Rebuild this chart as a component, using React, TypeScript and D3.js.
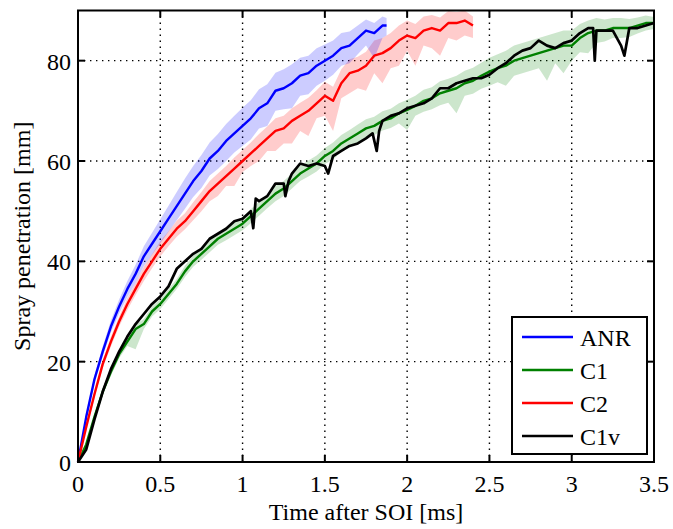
import React from "react";
import * as d3 from "d3";

const xTicks = [0, 0.5, 1, 1.5, 2, 2.5, 3, 3.5];
const xTickLabels = ["0", "0.5", "1", "1.5", "2", "2.5", "3", "3.5"];
const yTicks = [0, 20, 40, 60, 80];
const yTickLabels = ["0", "20", "40", "60", "80"];
const seriesNames = ["ANR", "C1", "C2", "C1v"];

// ANR
const anrT = [0, 0.05, 0.1, 0.15, 0.2, 0.25, 0.3, 0.35, 0.4, 0.45, 0.5, 0.55, 0.6, 0.65, 0.7, 0.75, 0.8, 0.85, 0.9, 0.95, 1.0, 1.05, 1.1, 1.15, 1.2, 1.25, 1.3, 1.35, 1.4, 1.45, 1.5, 1.55, 1.6, 1.65, 1.7, 1.75, 1.8, 1.85, 1.875];
const anrV = [0, 9, 16.5, 22, 27, 31, 34.5, 37.5, 41, 43.5, 46, 48.5, 51, 53.5, 56, 58, 60.5, 62, 64, 65.5, 67, 68.5, 70.5, 71.5, 74, 74.5, 75.5, 77, 77.5, 79, 80, 81, 82.5, 83, 84.5, 86, 85.5, 87, 87];
const anrUp = [0, 0.5, 0.8, 1, 1.2, 1.4, 1.6, 1.8, 2, 2.2, 2.4, 2.6, 2.8, 3, 3, 3.2, 3.2, 3.4, 3.4, 3.5, 3.6, 3.6, 3.8, 3.8, 3.6, 3.8, 3.8, 3.6, 3.5, 3.5, 3.2, 3, 3, 2.8, 2.5, 2.2, 2, 1.8, 1.5];
const anrDn = [0, 0.5, 0.8, 1, 1.2, 1.4, 1.6, 1.8, 2, 2.2, 2.4, 2.6, 2.8, 3, 3.2, 3.4, 3.4, 3.6, 4, 3.8, 4, 4.2, 4, 4.5, 4, 4.2, 5, 4, 4.2, 4, 4, 3.8, 3.5, 3.5, 3.2, 3, 5, 2.5, 2];

// C2
const c2T = [0, 0.05, 0.1, 0.15, 0.2, 0.25, 0.3, 0.35, 0.4, 0.45, 0.5, 0.55, 0.6, 0.65, 0.7, 0.75, 0.8, 0.85, 0.9, 0.95, 1.0, 1.05, 1.1, 1.15, 1.2, 1.25, 1.3, 1.35, 1.4, 1.45, 1.5, 1.55, 1.6, 1.65, 1.7, 1.75, 1.8, 1.85, 1.9, 1.95, 2.0, 2.05, 2.1, 2.15, 2.2, 2.25, 2.3, 2.35, 2.4];
const c2V = [0, 7, 13.5, 19.5, 24, 28, 31.5, 34.5, 37.5, 40, 42.5, 44.5, 46.5, 48, 50, 52, 54, 55.5, 57, 58.5, 60, 61.5, 63, 64.5, 66, 66.5, 68, 69, 70, 71.5, 73, 72, 75.5, 77.5, 78, 79, 81, 81.5, 82.5, 84, 85, 84.5, 86, 86.5, 86, 87.5, 87.5, 88, 87];
const c2Up = [0, 0.4, 0.6, 0.8, 1, 1, 1.2, 1.2, 1.4, 1.4, 1.5, 1.5, 1.6, 1.6, 1.8, 1.8, 2, 2, 2, 2.2, 2.2, 2.2, 2.4, 2.4, 2.5, 2.5, 2.5, 2.6, 2.6, 2.6, 2.8, 2.8, 2.8, 2.8, 2.8, 2.8, 3, 3, 3, 3, 3, 2.8, 2.8, 2.6, 2.6, 2.4, 2.2, 2, 1.8];
const c2Dn = [0, 0.4, 0.6, 0.8, 1, 1, 1.2, 1.2, 1.4, 1.4, 1.5, 1.5, 1.6, 1.6, 1.8, 2, 2, 2.5, 2, 3.5, 2.2, 2.5, 3, 2.5, 4, 3, 4.5, 3, 5, 3, 4, 6, 3, 4, 3.5, 5, 3.5, 6, 4, 5, 3, 5.5, 3, 4, 5, 3, 3.5, 3, 2.5];

// C1
const c1T = [0, 0.05, 0.1, 0.15, 0.2, 0.25, 0.3, 0.35, 0.4, 0.45, 0.5, 0.55, 0.6, 0.65, 0.7, 0.75, 0.8, 0.85, 0.9, 0.95, 1.0, 1.05, 1.1, 1.15, 1.2, 1.25, 1.3, 1.35, 1.4, 1.45, 1.5, 1.55, 1.6, 1.65, 1.7, 1.75, 1.8, 1.85, 1.9, 1.95, 2.0, 2.05, 2.1, 2.15, 2.2, 2.25, 2.3, 2.35, 2.4, 2.45, 2.5, 2.55, 2.6, 2.65, 2.7, 2.75, 2.8, 2.85, 2.9, 2.95, 3.0, 3.05, 3.1, 3.15, 3.2, 3.25, 3.3, 3.35, 3.4, 3.45, 3.5];
const c1V = [0, 3.5, 9, 14, 18, 21.5, 24, 26.5, 27.5, 30, 31.5, 33.5, 35.5, 38, 40, 41.5, 43, 44.5, 45.5, 46.5, 47.5, 49, 50.5, 52, 53.5, 54.5, 56, 57.5, 58.5, 59.5, 61, 62, 63.5, 64.5, 65.5, 66.5, 67, 68, 68.5, 69.5, 70.2, 71, 72, 72.5, 73.5, 74, 74.5, 75.5, 76, 77, 77.8, 78.5, 79, 80, 80.5, 81, 81.5, 82, 82.5, 83, 83, 84.5, 85.5, 86, 86, 86.5, 86.5, 86.5, 87, 87.5, 87.5];
const c1Up = [0, 0.3, 0.5, 0.7, 0.8, 0.8, 0.9, 0.9, 1, 1, 1, 1, 1, 1.1, 1.1, 1.2, 1.2, 1.2, 1.3, 1.3, 1.3, 1.4, 1.4, 1.4, 1.5, 1.5, 1.5, 1.5, 1.6, 1.6, 1.6, 1.7, 1.7, 1.7, 1.8, 1.8, 1.8, 1.9, 1.9, 2, 2, 2, 2.2, 2.2, 2.4, 2.4, 2.5, 2.5, 2.6, 2.6, 2.8, 2.8, 3, 3, 3, 3, 3, 3, 3, 3, 3, 2.8, 2.5, 2.5, 2.2, 2, 2, 1.8, 1.6, 1.5, 1.2];
const c1Dn = [0, 0.3, 0.5, 0.7, 0.8, 0.8, 0.9, 4, 1, 1, 1, 1, 1, 1.1, 1.1, 1.2, 1.2, 1.2, 1.3, 1.3, 1.3, 1.4, 1.4, 1.4, 1.5, 1.5, 1.5, 1.5, 1.6, 1.6, 1.6, 1.7, 1.7, 1.7, 1.8, 1.8, 1.8, 1.9, 1.9, 2, 4, 2, 2.2, 2.2, 2.4, 2.4, 5, 2.5, 2.6, 2.6, 2.8, 2.8, 4, 3, 3, 3, 3, 6, 3, 5.5, 3, 2.8, 4, 2.5, 2.2, 2, 2, 1.8, 1.6, 1.5, 1.2];

// C1v
const c1vT = [0, 0.05, 0.1, 0.15, 0.2, 0.25, 0.3, 0.35, 0.4, 0.45, 0.5, 0.55, 0.6, 0.65, 0.7, 0.75, 0.8, 0.85, 0.9, 0.95, 1.0, 1.05, 1.065, 1.08, 1.1, 1.15, 1.2, 1.25, 1.26, 1.28, 1.3, 1.35, 1.4, 1.45, 1.5, 1.52, 1.55, 1.6, 1.65, 1.7, 1.75, 1.79, 1.815, 1.83, 1.85, 1.9, 1.95, 2.0, 2.05, 2.1, 2.15, 2.2, 2.25, 2.3, 2.35, 2.4, 2.45, 2.5, 2.55, 2.6, 2.65, 2.7, 2.75, 2.8, 2.85, 2.9, 2.95, 3.0, 3.05, 3.1, 3.13, 3.14, 3.15, 3.2, 3.25, 3.3, 3.32, 3.35, 3.4, 3.45, 3.5];
const c1vV = [0, 2.5, 8.5, 14, 18.5, 22, 25, 27.5, 29.5, 31.5, 33, 35, 38.5, 40, 41.5, 42.5, 44.5, 45.5, 46.5, 48, 48.5, 50, 46.6, 52.5, 52, 53, 55.5, 55.5, 53, 56, 57.5, 59.5, 59, 59.5, 59, 57.5, 61, 62, 63, 63.5, 64.5, 65.5, 62, 66, 68, 69, 69.5, 70.5, 71, 71.5, 72.5, 74.5, 74.5, 75.5, 76, 76.5, 76.5, 77.2, 78.5, 79.5, 81, 82, 82.5, 84, 83, 82.5, 83.5, 84, 85.5, 86.5, 86.5, 80, 86, 86, 86, 83, 81, 86.5, 86.5, 87, 87.5];

const PL = 78, PR = 654, PT = 10.5, PB = 462;
const FONT = "Liberation Serif, DejaVu Serif, Times New Roman, serif";

type Pt = { t: number; v: number; lo: number; hi: number };
function mk(t: number[], v: number[], up?: number[], dn?: number[]): Pt[] {
  return t.map((tt, i) => ({ t: tt, v: v[i], lo: v[i] - (dn ? dn[i] : 0), hi: v[i] + (up ? up[i] : 0) }));
}

export default function App() {
  const x = d3.scaleLinear().domain([0, 3.5]).range([PL, PR]);
  const y = d3.scaleLinear().domain([0, 90]).range([PB, PT]);
  const line = d3.line<Pt>().x((d) => x(d.t)).y((d) => y(d.v));
  const area = d3.area<Pt>().x((d) => x(d.t)).y0((d) => y(d.lo)).y1((d) => y(d.hi));

  const anr = mk(anrT, anrV, anrUp, anrDn);
  const c2 = mk(c2T, c2V, c2Up, c2Dn);
  const c1 = mk(c1T, c1V, c1Up, c1Dn);
  const c1v = mk(c1vT, c1vV);

  const colors = ["#0000ff", "#008000", "#ff0000", "#000000"];
  const tickLen = 7;
  const ts = { fontFamily: FONT, fontSize: 24 };

  return (
    <svg width={673} height={529} style={{ position: "absolute", left: 0, top: 0, background: "#fff" }}>
      <rect x={0} y={0} width={673} height={529} fill="#fff" />
      {/* grid */}
      {xTicks.slice(1, -1).map((t) => (
        <line key={"gx" + t} x1={x(t)} x2={x(t)} y1={PB} y2={PT} stroke="#000" strokeWidth={1.4} strokeDasharray="1.4 4.6" />
      ))}
      {yTicks.slice(1).map((v) => (
        <line key={"gy" + v} x1={PL} x2={PR} y1={y(v)} y2={y(v)} stroke="#000" strokeWidth={1.4} strokeDasharray="1.4 4.6" />
      ))}
      {/* bands */}
      <path d={area(c1) || ""} fill="#008000" fillOpacity={0.2} />
      <path d={area(c2) || ""} fill="#ff0000" fillOpacity={0.2} />
      <path d={area(anr) || ""} fill="#0000ff" fillOpacity={0.2} />
      {/* lines */}
      <path d={line(anr) || ""} fill="none" stroke={colors[0]} strokeWidth={2.4} strokeLinejoin="round" />
      <path d={line(c1) || ""} fill="none" stroke={colors[1]} strokeWidth={2.4} strokeLinejoin="round" />
      <path d={line(c2) || ""} fill="none" stroke={colors[2]} strokeWidth={2.4} strokeLinejoin="round" />
      <path d={line(c1v) || ""} fill="none" stroke={colors[3]} strokeWidth={2.7} strokeLinejoin="round" />
      {/* axes box */}
      <rect x={PL} y={PT} width={PR - PL} height={PB - PT} fill="none" stroke="#000" strokeWidth={2} />
      {xTicks.map((t, i) => (
        <g key={"xt" + t}>
          <line x1={x(t)} x2={x(t)} y1={PB} y2={PB - tickLen} stroke="#000" strokeWidth={2} />
          <line x1={x(t)} x2={x(t)} y1={PT} y2={PT + tickLen} stroke="#000" strokeWidth={2} />
          <text x={x(t)} y={492} textAnchor="middle" style={ts}>{xTickLabels[i]}</text>
        </g>
      ))}
      {yTicks.map((v, i) => (
        <g key={"yt" + v}>
          <line x1={PL} x2={PL + tickLen} y1={y(v)} y2={y(v)} stroke="#000" strokeWidth={2} />
          <line x1={PR} x2={PR - tickLen} y1={y(v)} y2={y(v)} stroke="#000" strokeWidth={2} />
          <text x={71} y={y(v) + 9} textAnchor="end" style={ts}>{yTickLabels[i]}</text>
        </g>
      ))}
      <text x={(PL + PR) / 2} y={520} textAnchor="middle" style={ts}>Time after SOI [ms]</text>
      <text transform={`translate(30, ${(PT + PB) / 2}) rotate(-90)`} textAnchor="middle" style={ts}>Spray penetration [mm]</text>
      {/* legend */}
      <rect x={512} y={317} width={135} height={137} fill="#fff" stroke="#000" strokeWidth={2} />
      {seriesNames.map((n, i) => {
        const ry = 337 + i * 33;
        return (
          <g key={n}>
            <line x1={522} x2={573} y1={ry} y2={ry} stroke={colors[i]} strokeWidth={2.4} />
            <text x={580} y={ry + 9} style={ts}>{n}</text>
          </g>
        );
      })}
    </svg>
  );
}
